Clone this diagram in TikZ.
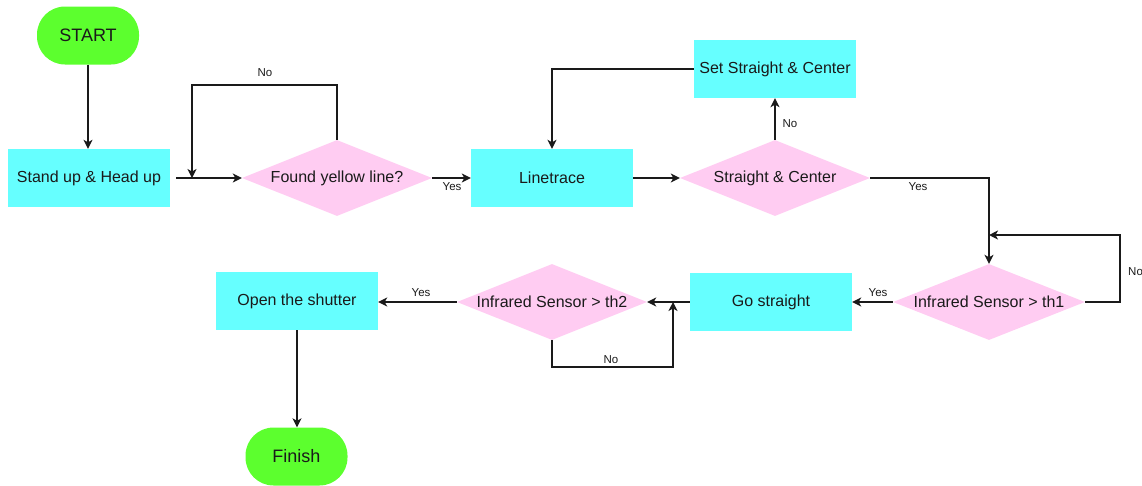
\documentclass[tikz,border=0pt]{standalone}
\usepackage{fontspec}
\setmainfont{Liberation Sans}
\usetikzlibrary{arrows.meta,shapes.geometric}
\definecolor{termgreen}{RGB}{92,255,46}
\definecolor{procyan}{RGB}{102,255,255}
\definecolor{decpink}{RGB}{255,204,242}
\definecolor{ink}{RGB}{26,26,26}
\begin{document}
\begin{tikzpicture}[x=1pt,y=-1pt,
  terminal/.style={draw=none,fill=termgreen,rounded corners=28pt,minimum width=102pt,minimum height=58pt,inner sep=0pt,font=\fontsize{18}{20}\selectfont,text=ink},
  process/.style={draw=none,fill=procyan,minimum width=162pt,minimum height=58pt,inner sep=0pt,font=\fontsize{16}{18}\selectfont,text=ink},
  decision/.style={draw=none,fill=decpink,diamond,minimum width=190pt,minimum height=76pt,inner sep=0pt,font=\fontsize{16}{18}\selectfont,text=ink},
  arr/.style={draw=ink,line width=1.3pt,-{Stealth[length=9pt,width=9pt,inset=2.5pt]}},
  lbl/.style={font=\fontsize{11.5}{13}\selectfont,text=ink,inner sep=0pt}]
\useasboundingbox (0,0) rectangle (1142,485);

% shapes
\node[terminal] (start) at (88,35.5) {START};
\node[process] (stand) at (89,178) {\raisebox{-1.5pt}{Stand up \& Head up}};
\node[decision] (found) at (337,178) {\makebox[0pt]{\raisebox{-1pt}{Found yellow line?}}};
\node[process] (trace) at (552,178) {\raisebox{-1pt}{Linetrace}};
\node[decision] (sc) at (775,178) {\makebox[0pt]{\raisebox{-1pt}{Straight \& Center}}};
\node[process] (set) at (775,69) {Set Straight \& Center};
\node[decision,minimum width=192pt] (th1) at (989,302) {\makebox[0pt]{\raisebox{-1pt}{Infrared Sensor > th1}}};
\node[process] (go) at (771,302) {\raisebox{-1pt}{Go straight}};
\node[decision] (th2) at (552,302) {\makebox[0pt]{\raisebox{-1pt}{Infrared Sensor > th2}}};
\node[process] (open) at (297,301) {Open the shutter};
\node[terminal] (finish) at (296.5,456.5) {Finish};

% bend points of the loops
\coordinate (loopA) at (192,85);
\coordinate (loopB) at (1120,235);
\coordinate (loopC) at (673,367);

% connectors
\draw[arr] (start.south) -- (start.south |- stand.north);
\draw[arr,shorten <=6pt] (stand.east) -- (found.west);
\draw[arr] (found.north) |- (loopA) -- (loopA |- found.west);
\draw[arr] (found.east) -- (trace.west);
\draw[arr] (trace.east) -- (sc.west);
\draw[arr] (sc.north) -- (set.south);
\draw[arr] (set.west) -| (trace.north);
\draw[arr] (sc.east) -| (th1.north);
\draw[arr] (th1.east) -| (loopB) -- (th1.north |- loopB);
\draw[arr] (th1.west) -- (go.east);
\draw[arr] (go.west) -- (th2.east);
\draw[arr] (th2.south) |- (loopC) -- (loopC |- th2.east);
\draw[arr] (th2.west) -- (th2.west -| open.east);
\draw[arr] (open.south) -- (open.south |- finish.north);

% branch labels
\node[lbl] (noA) at (265,73) {No};
\node[lbl] (yesA) at (452,187) {Yes};
\node[lbl] (noB) at (790,124) {No};
\node[lbl] (yesB) at (918,187) {Yes};
\node[lbl,anchor=west] (noC) at (1128,272) {No};
\node[lbl] (yesC) at (878,293) {Yes};
\node[lbl] (noD) at (611,360) {No};
\node[lbl] (yesD) at (421,293) {Yes};
\end{tikzpicture}
\end{document}
